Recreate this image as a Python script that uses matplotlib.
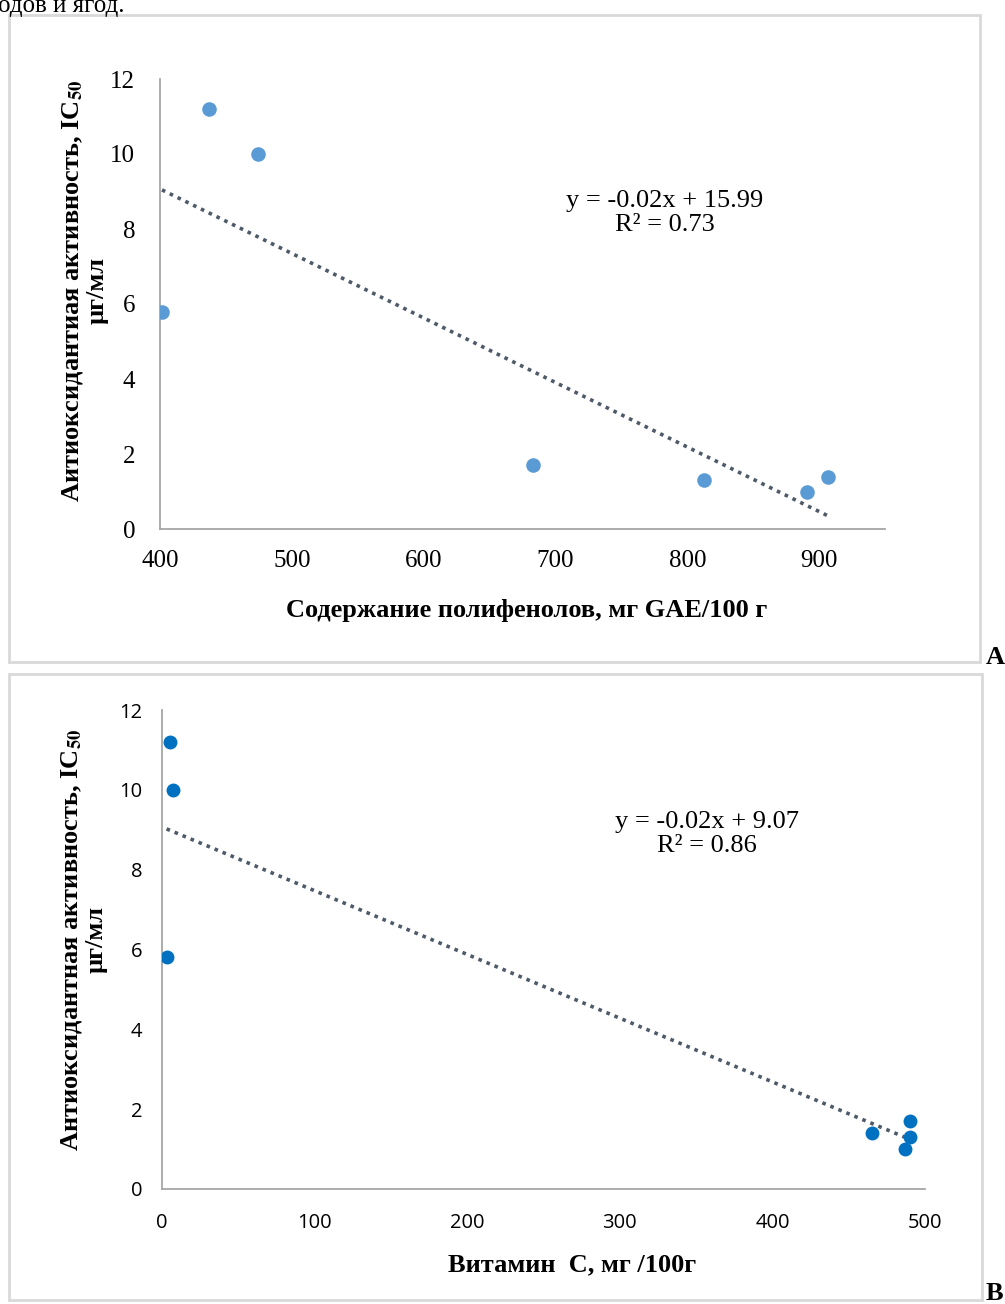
import numpy as np
import matplotlib
matplotlib.use("Agg")
import matplotlib.pyplot as plt
from matplotlib.patches import Rectangle

plt.rcParams["mathtext.fontset"] = "stix"

# Panel A: polyphenols vs IC50
poly_x = [401.5, 437, 474, 683, 813, 891, 907]
poly_y = [5.8, 11.2, 10.0, 1.7, 1.3, 1.0, 1.4]
poly_eq = "y = -0.02x + 15.99\nR² = 0.73"
poly_xticks = [400, 500, 600, 700, 800, 900]

# Panel B: vitamin C vs IC50
vitc_x = [5, 7, 3, 465, 490, 490, 487]
vitc_y = [11.2, 10.0, 5.8, 1.4, 1.7, 1.3, 1.0]
vitc_eq = "y = -0.02x + 9.07\nR² = 0.86"
vitc_xticks = [0, 100, 200, 300, 400, 500]

yticks = [0, 2, 4, 6, 8, 10, 12]

W, H = 1005, 1304
fig = plt.figure(figsize=(W / 100, H / 100), dpi=100)
serif = "Liberation Serif"


def fx(px):
    return px / W


def fy(py):
    return 1 - py / H


# panel frames
for (l, t, r, b) in [(9, 15, 980, 662), (9, 674, 982, 1300)]:
    fig.patches.append(Rectangle((fx(l), fy(b)), fx(r - l), (b - t) / H,
                                 transform=fig.transFigure, fill=False,
                                 edgecolor="#d9d9d9", linewidth=2))

# text of the page above the figure, cropped like in the scan
fig.text(fx(-2), fy(12), "одов и ягод.", family=serif, fontsize=18,
         va="baseline", ha="left")

fig.text(fx(986), fy(664), "A", family=serif, fontsize=19,
         fontweight="bold", va="baseline")
fig.text(fx(986), fy(1300), "B", family=serif, fontsize=19,
         fontweight="bold", va="baseline")


def setup(ax, xticks, tickfont, tsize, ypad, xpad):
    for s in ["top", "right"]:
        ax.spines[s].set_visible(False)
    for s in ["left", "bottom"]:
        ax.spines[s].set_color("#a6a6a6")
        ax.spines[s].set_linewidth(1.3)
    ax.set_xticks(xticks, [str(t) for t in xticks],
                  fontfamily=tickfont, fontsize=tsize)
    ax.set_yticks(yticks, [str(t) for t in yticks],
                  fontfamily=tickfont, fontsize=tsize)
    ax.tick_params(length=0)
    ax.tick_params(axis="y", pad=ypad)
    ax.tick_params(axis="x", pad=xpad)
    ax.set_facecolor("none")


# ---- Panel A
ax1 = fig.add_axes([fx(160), fy(529), fx(885 - 160), (529 - 79) / H])
ax1.scatter(poly_x, poly_y, s=110, color="#5b9bd5", zorder=3, linewidths=0)
k, c = np.polyfit(poly_x, poly_y, 1)
xs = np.array([min(poly_x), max(poly_x)])
ax1.plot(xs, k * xs + c, ls=(0, (1, 1.4)), lw=2.6, color="#4f5a68", zorder=2)
ax1.set_xlim(400, 950)
ax1.set_ylim(0, 12)
setup(ax1, poly_xticks, serif, 18, 18, 15)
ax1.text((665 - 160) / 725, (529 - 213) / 450, poly_eq,
         transform=ax1.transAxes, ha="center", va="center",
         family=serif, fontsize=19, linespacing=1.15)
ax1.set_ylabel("Аитиоксидантиая активность, IC$_{\\mathbf{50}}$\nµг/мл",
               family=serif, fontsize=19, fontweight="bold", linespacing=1.05)
ax1.yaxis.set_label_coords(-(160 - 84) / 725, 0.53)
ax1.yaxis.label.set_va("center")
ax1.set_xlabel("Содержание полифенолов, мг GAE/100 г", family=serif,
               fontsize=19, fontweight="bold")
ax1.xaxis.set_label_coords((527 - 160) / 725, -(610 - 529) / 450)
ax1.xaxis.label.set_va("center")

# ---- Panel B
ax2 = fig.add_axes([fx(162), fy(1189), fx(925 - 162), (1189 - 710) / H])
ax2.scatter(vitc_x, vitc_y, s=100, color="#0070c0", zorder=3, linewidths=0)
k, c = np.polyfit(vitc_x, vitc_y, 1)
xs = np.array([min(vitc_x), max(vitc_x)])
ax2.plot(xs, k * xs + c, ls=(0, (1, 1.4)), lw=2.6, color="#4f5a68", zorder=2)
ax2.set_xlim(0, 500)
ax2.set_ylim(0, 12)
setup(ax2, vitc_xticks, "Open Sans", 14.5, 14, 17)
ax2.text((707 - 162) / 763, (1189 - 834) / 479, vitc_eq,
         transform=ax2.transAxes, ha="center", va="center",
         family=serif, fontsize=19, linespacing=1.15)
ax2.set_ylabel("Антиоксидантная активность, IC$_{\\mathbf{50}}$\nµг/мл",
               family=serif, fontsize=19, fontweight="bold", linespacing=1.05)
ax2.yaxis.set_label_coords(-(162 - 83) / 763, 0.52)
ax2.yaxis.label.set_va("center")
ax2.set_xlabel("Витамин  С, мг /100г", family=serif, fontsize=19,
               fontweight="bold")
ax2.xaxis.set_label_coords((572 - 162) / 763, -(1265 - 1189) / 479)
ax2.xaxis.label.set_va("center")

fig.savefig("out.png", dpi=100)
